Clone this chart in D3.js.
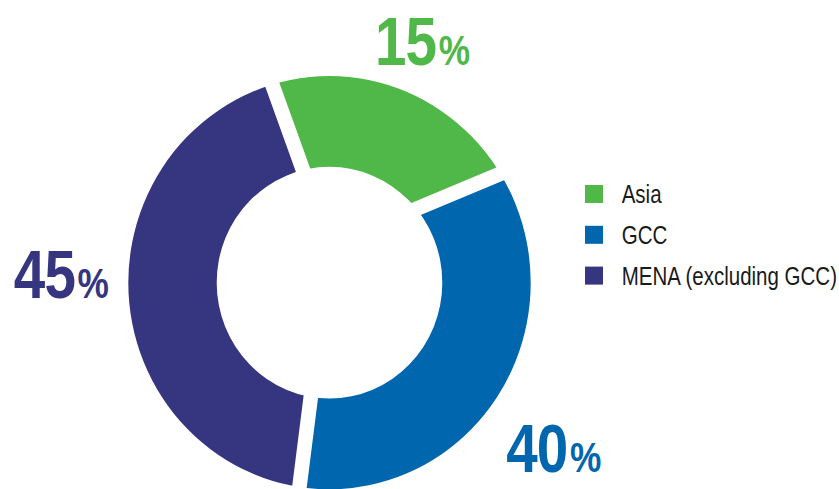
<!DOCTYPE html>
<html>
<head>
<meta charset="utf-8">
<script src="https://cdn.jsdelivr.net/npm/d3@7"></script>
<style>
  html, body { margin: 0; padding: 0; background: #ffffff; }
  svg { display: block; }
</style>
</head>
<body>
<svg id="chart" width="839" height="489"></svg>
<script>
// ---- data ----
const categories = ["Asia", "GCC", "MENA (excluding GCC)"];
const percentLabels = [15, 40, 45];          // printed values
const drawnShares = [24.2, 33.3, 42.5];       // angular share of each slice as drawn
const colors = ["#50B848", "#0066AE", "#35367F"];

// ---- layout ----
const W = 839, H = 489;
const pieCenter = [330, 245];                 // where slice edges meet
const ringCenter = [329.5, 282.7];            // centre of the ring
const ringScaleY = 1.027;
const outerR = 201.2, innerR = 112.8;
const startDeg = -19.8;
const labelAnchor = [[422.5, 65], [553.7, 471.7], [61.3, 298.3]]; // centre x, baseline y
const fontFamily = "'Liberation Sans', Arial, Helvetica, sans-serif";
const narrow = 0.82;                           // condensed look

const data = categories.map((c, i) => ({ name: c, share: drawnShares[i], pct: percentLabels[i], color: colors[i] }));

const svg = d3.select("#chart");

// ring-shaped clip
const ringArc = d3.arc().innerRadius(innerR).outerRadius(outerR).startAngle(0).endAngle(2 * Math.PI);
svg.append("defs").append("clipPath").attr("id", "ring")
  .append("path")
  .attr("transform", `translate(${ringCenter[0]},${ringCenter[1]}) scale(1,${ringScaleY})`)
  .attr("d", ringArc());

const a0 = startDeg * Math.PI / 180;
const pie = d3.pie().value(d => d.share).sort(null).startAngle(a0).endAngle(a0 + 2 * Math.PI);
const wedge = d3.arc().innerRadius(60).outerRadius(330).padAngle(0.146).padRadius(100);

svg.append("g").attr("clip-path", "url(#ring)")
  .append("g").attr("transform", `translate(${pieCenter[0]},${pieCenter[1]})`)
  .selectAll("path").data(pie(data)).join("path")
  .attr("d", wedge)
  .attr("fill", d => d.data.color);

// percentage labels
const lab = svg.append("g").selectAll("g").data(data).join("g")
  .attr("transform", (d, i) => `translate(${labelAnchor[i][0]},${labelAnchor[i][1]}) scale(${narrow},1)`)
  .append("text")
  .attr("text-anchor", "middle")
  .attr("font-family", fontFamily)
  .attr("font-weight", "bold")
  .attr("fill", d => d.color);
lab.append("tspan").attr("font-size", 69).attr("letter-spacing", -1).text(d => d.pct);
lab.append("tspan").attr("font-size", 43).attr("dx", 3).text("%");

// legend
const legend = svg.append("g").attr("transform", "translate(585,185)");
const items = legend.selectAll("g").data(data).join("g")
  .attr("transform", (d, i) => `translate(0,${i * 40.8})`);
items.append("rect").attr("width", 18).attr("height", 18).attr("fill", d => d.color);
items.append("g").attr("transform", `translate(36.7,18.3) scale(${narrow},1)`)
  .append("text")
  .attr("font-family", fontFamily)
  .attr("font-size", 25)
  .attr("fill", "#1a1a1a")
  .text(d => d.name);
</script>
</body>
</html>
